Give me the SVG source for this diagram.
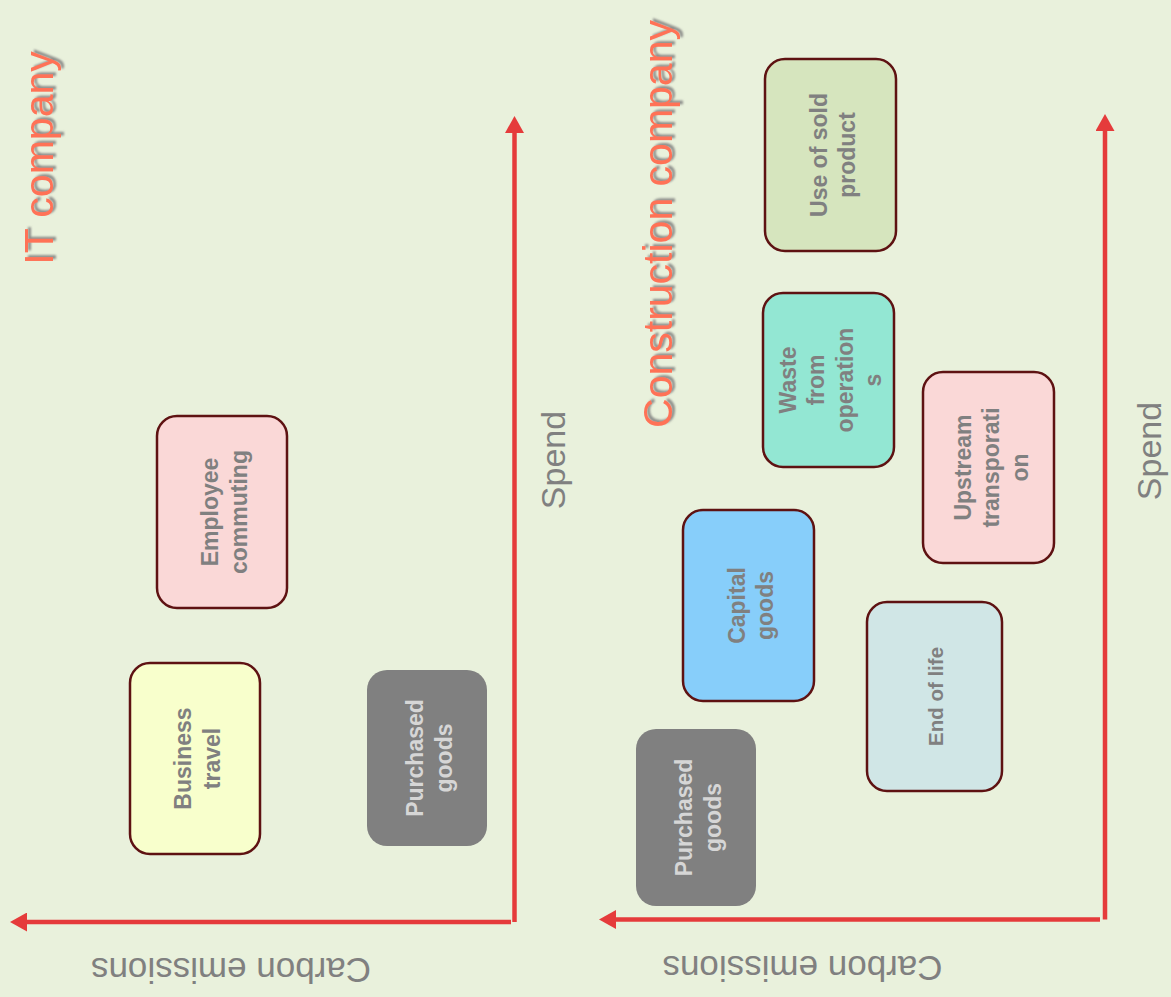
<svg xmlns="http://www.w3.org/2000/svg" width="1171" height="997" viewBox="0 0 1171 997">
  <defs>
    <style>
      .bg { fill: #E9F1DC; }
      .node { stroke: #5E1212; stroke-width: 2.5; }
      .grey { fill: #808080; }
      .ntext { font-family: "Liberation Sans", Arial, sans-serif; font-weight: bold; font-size: 23px; fill: #808080; text-anchor: middle; }
      .ltext { fill: #D6D6D6; }
      .title { font-family: "Liberation Sans", Arial, sans-serif; font-size: 41px; fill: #FF7256; text-anchor: middle; filter: url(#shadow); }
      .axislabel { font-family: "Liberation Sans", Arial, sans-serif; fill: #808080; text-anchor: middle; }
      .axis { stroke: #E53B3B; stroke-width: 4.5; fill: none; marker-end: url(#arrow); }
    </style>
    <filter id="shadow" x="-10%" y="-40%" width="125%" height="180%">
      <feDropShadow dx="2" dy="3" stdDeviation="1" flood-color="#7a7a7a" flood-opacity="0.85"/>
    </filter>
    <marker id="arrow" markerUnits="userSpaceOnUse" markerWidth="18" markerHeight="19" viewBox="0 0 18 19" refX="0" refY="9.5" orient="auto">
      <path d="M0,0 L17,9.5 L0,19 z" fill="#E53B3B"/>
    </marker>
  </defs>

  <rect class="bg" x="0" y="0" width="1171" height="997"/>

  <g id="titles">
    <text class="title" transform="translate(53,158) rotate(-90)">IT company</text>
    <text class="title" transform="translate(672,224) rotate(-90)">Construction company</text>
  </g>

  <g id="connectors">
    <line class="axis" x1="514.5" y1="922" x2="514.5" y2="133"/>
    <line class="axis" x1="511" y1="922" x2="27" y2="922"/>
    <line class="axis" x1="1105" y1="919.5" x2="1105" y2="131"/>
    <line class="axis" x1="1100" y1="919.5" x2="616" y2="919.5"/>
  </g>

  <g id="axis-labels">
    <text class="axislabel" font-size="34" transform="translate(565,460) rotate(-90)">Spend</text>
    <text class="axislabel" font-size="35" transform="translate(231,958) rotate(180)">Carbon emissions</text>
    <text class="axislabel" font-size="34" transform="translate(1161,451) rotate(-90)">Spend</text>
    <text class="axislabel" font-size="35" transform="translate(802.5,956) rotate(180)">Carbon emissions</text>
  </g>

  <g id="it-employee-commuting">
    <rect class="node" x="157" y="416" width="130" height="192" rx="20" fill="#FAD8D7"/>
    <text class="ntext" transform="translate(222,512) rotate(-90)"><tspan x="0" y="-4">Employee</tspan><tspan x="0" y="24.5">commuting</tspan></text>
  </g>

  <g id="it-business-travel">
    <rect class="node" x="130" y="663" width="130" height="191" rx="20" fill="#F8FFCC"/>
    <text class="ntext" transform="translate(195,758.5) rotate(-90)"><tspan x="0" y="-4">Business</tspan><tspan x="0" y="24.5">travel</tspan></text>
  </g>

  <g id="it-purchased-goods">
    <rect class="grey" x="367" y="670" width="120" height="176" rx="20"/>
    <text class="ntext ltext" transform="translate(427,758) rotate(-90)"><tspan x="0" y="-4">Purchased</tspan><tspan x="0" y="24.5">goods</tspan></text>
  </g>

  <g id="cc-use-of-sold-product">
    <rect class="node" x="765" y="59" width="131" height="192" rx="20" fill="#D6E5BE"/>
    <text class="ntext" transform="translate(830.5,155) rotate(-90)"><tspan x="0" y="-4">Use of sold</tspan><tspan x="0" y="24.5">product</tspan></text>
  </g>

  <g id="cc-waste-from-operations">
    <rect class="node" x="763" y="293" width="131" height="174" rx="20" fill="#93E7D3"/>
    <text class="ntext" transform="translate(828.5,380) rotate(-90)"><tspan x="0" y="-33">Waste</tspan><tspan x="0" y="-4.5">from</tspan><tspan x="0" y="24">operation</tspan><tspan x="0" y="52.5">s</tspan></text>
  </g>

  <g id="cc-upstream-transportation">
    <rect class="node" x="923" y="372" width="131" height="191" rx="20" fill="#FAD8D7"/>
    <text class="ntext" transform="translate(988.5,467.5) rotate(-90)"><tspan x="0" y="-18">Upstream</tspan><tspan x="0" y="10.5">transporati</tspan><tspan x="0" y="39">on</tspan></text>
  </g>

  <g id="cc-capital-goods">
    <rect class="node" x="683" y="510" width="131" height="191" rx="20" fill="#87CEFA"/>
    <text class="ntext" transform="translate(748.5,605.5) rotate(-90)"><tspan x="0" y="-4">Capital</tspan><tspan x="0" y="24.5">goods</tspan></text>
  </g>

  <g id="cc-end-of-life">
    <rect class="node" x="867" y="602" width="135" height="189" rx="20" fill="#D0E6E6"/>
    <text class="ntext" font-size="20.5" style="font-size:20.5px" transform="translate(934.5,696.5) rotate(-90)"><tspan x="0" y="8.5">End of life</tspan></text>
  </g>

  <g id="cc-purchased-goods">
    <rect class="grey" x="636" y="729" width="120" height="177" rx="20"/>
    <text class="ntext ltext" transform="translate(696,817.5) rotate(-90)"><tspan x="0" y="-4">Purchased</tspan><tspan x="0" y="24.5">goods</tspan></text>
  </g>
</svg>
